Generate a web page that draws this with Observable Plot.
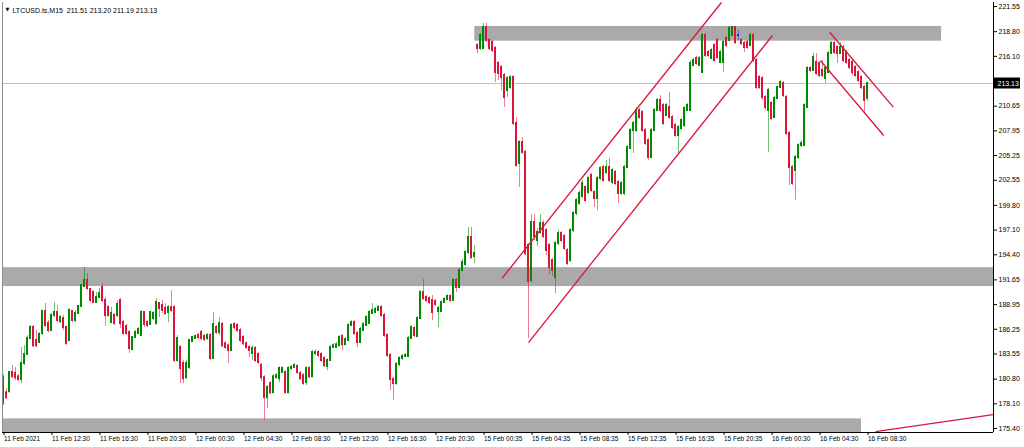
<!DOCTYPE html>
<html><head><meta charset="utf-8">
<script src="https://cdn.jsdelivr.net/npm/d3@7"></script>
<script src="https://cdn.jsdelivr.net/npm/@observablehq/plot@0.6"></script>
<style>
html,body{margin:0;padding:0;background:#fff;}
#chart svg{display:block;}
</style></head><body><div id="chart"></div>
<script>
const symbol = "LTCUSD.ts,M15";
const xLabels = ["11 Feb 2021","11 Feb 12:30","11 Feb 16:30","11 Feb 20:30","12 Feb 00:30","12 Feb 04:30","12 Feb 08:30","12 Feb 12:30","12 Feb 16:30","12 Feb 20:30","15 Feb 00:35","15 Feb 04:35","15 Feb 08:35","15 Feb 12:35","15 Feb 16:35","15 Feb 20:35","16 Feb 00:30","16 Feb 04:30","16 Feb 08:30"];
const barsPerLabel = 16;
const yTicks = [221.55,218.80,216.10,210.65,207.95,205.25,202.55,199.80,197.10,194.40,191.65,188.95,186.25,183.55,180.80,178.10,175.40];

const open = [180.96,179.32,179.43,181.51,181.40,181.07,180.75,182.50,183.48,185.23,186.44,185.01,184.79,185.78,188.19,186.87,186.11,187.75,188.08,187.09,187.42,186.44,185.01,188.19,187.20,187.97,188.74,190.92,191.58,190.59,190.26,189.17,189.72,190.81,189.39,188.63,186.98,187.75,187.75,189.39,186.98,186.55,185.89,184.03,185.34,185.78,185.56,188.08,186.98,186.76,187.42,186.87,189.06,188.84,188.52,188.08,188.63,188.63,182.83,184.25,182.50,180.96,182.06,184.90,185.23,185.56,185.89,185.45,185.23,185.56,183.04,186.44,185.89,186.76,184.68,184.46,183.92,186.76,186.66,186.11,185.34,184.68,184.25,183.59,184.14,183.48,182.28,180.96,178.77,180.31,179.32,180.96,180.85,181.51,181.51,179.32,181.95,182.06,182.17,181.40,181.18,180.42,181.95,181.07,183.59,183.70,183.48,183.04,182.17,182.83,184.25,184.25,184.46,185.45,184.57,185.01,186.66,186.98,185.78,184.79,186.11,186.66,186.87,187.97,188.08,188.30,188.63,187.75,185.56,183.37,180.75,180.31,182.39,183.04,183.26,183.26,185.23,186.33,185.45,187.42,190.26,189.72,189.61,189.39,189.28,188.19,188.19,189.17,189.50,189.83,189.39,191.58,190.81,192.67,193.33,194.64,196.28,194.20,217.28,216.95,216.95,219.25,217.83,217.61,216.95,215.32,214.88,214.00,212.36,212.70,213.78,208.75,204.38,206.67,205.58,195.40,191.58,197.92,195.95,196.83,197.81,197.05,195.40,193.77,191.91,195.62,196.72,196.39,194.86,193.77,197.05,198.91,200.00,200.77,201.75,201.20,203.06,201.20,200.55,202.74,203.94,203.39,203.94,202.30,203.39,202.30,201.09,201.09,203.94,206.02,207.99,207.99,210.18,209.96,207.99,206.89,205.04,207.99,210.18,211.27,210.72,209.63,210.50,209.41,208.53,207.44,208.21,208.53,210.18,210.18,215.10,215.87,215.10,214.33,218.38,216.52,215.87,217.28,217.83,215.43,215.43,218.05,217.83,218.38,219.25,218.38,217.83,217.50,217.61,217.28,218.38,215.65,213.78,213.68,211.60,210.18,210.94,209.41,211.49,212.70,213.13,211.60,207.66,203.94,203.61,205.04,206.35,206.35,210.50,214.77,214.55,215.43,215.32,214.55,213.68,214.33,216.41,217.50,217.06,216.41,217.06,216.52,215.65,215.43,214.88,214.33,213.78,212.70,211.51];
const high = [181.29,179.76,181.62,182.28,182.06,181.29,184.25,184.46,185.56,186.66,186.66,186.11,185.89,188.30,189.06,187.20,187.97,189.17,188.84,187.75,187.75,186.55,188.52,188.30,188.30,188.84,191.14,193.00,192.34,190.70,190.48,190.26,190.70,191.25,189.72,188.84,188.63,187.97,189.39,189.61,187.20,186.76,186.11,185.45,186.11,186.44,188.30,188.19,187.20,188.19,188.19,189.61,189.17,189.39,189.06,188.84,190.48,188.84,185.56,184.46,182.83,182.83,185.12,185.45,185.67,185.78,186.11,185.67,185.78,185.78,188.08,186.66,187.53,186.98,184.90,184.68,186.87,186.98,186.87,186.33,185.56,184.90,184.46,184.46,184.36,183.70,182.50,181.18,180.09,180.53,181.29,181.40,182.17,182.17,181.73,182.17,182.28,182.50,182.39,181.62,181.40,182.17,182.17,183.92,184.03,183.92,183.70,183.26,183.04,184.46,184.68,184.79,185.56,185.67,185.34,186.87,187.20,187.20,186.00,186.44,186.98,187.75,188.30,189.06,188.63,188.84,188.84,187.97,185.78,183.59,180.96,182.61,183.26,183.48,183.59,185.45,186.66,186.55,187.64,190.48,191.69,189.94,189.83,189.94,189.50,188.74,189.39,189.72,190.04,190.04,191.80,191.80,192.89,193.88,194.86,197.38,197.38,195.40,217.50,218.60,219.69,219.69,218.05,217.83,217.17,215.54,215.10,214.22,213.89,214.00,214.00,209.41,206.89,207.22,205.80,195.62,198.80,198.80,197.27,198.80,198.14,197.27,195.62,193.99,195.84,197.05,196.94,196.61,195.08,197.27,199.13,200.55,201.42,202.52,201.97,202.96,203.28,201.42,202.96,204.05,204.16,204.71,204.93,203.83,203.61,202.52,202.41,204.16,206.35,208.21,208.97,210.50,210.40,210.18,208.21,207.11,208.21,210.40,211.49,211.82,210.94,210.94,212.14,209.63,208.75,208.53,209.30,210.61,210.94,215.65,215.87,216.09,216.09,218.60,218.60,216.74,216.95,217.50,218.05,216.74,217.83,218.27,219.37,219.37,219.37,218.93,218.05,217.72,217.83,218.60,218.60,215.87,214.00,213.89,211.82,212.58,211.16,211.71,212.91,213.46,213.35,211.82,207.88,204.16,205.25,206.56,206.89,210.94,214.99,214.99,216.41,216.41,215.54,215.65,214.99,216.63,217.72,217.72,217.28,217.61,217.28,216.74,215.87,215.65,215.10,214.55,214.00,212.91,213.20];
const low = [177.90,178.56,179.32,180.85,180.64,180.53,180.31,182.28,183.37,185.12,184.25,184.25,184.68,185.56,186.44,185.89,186.00,187.53,186.98,186.87,186.11,184.57,184.90,186.98,186.98,187.86,188.63,190.81,190.48,189.17,189.06,189.06,189.61,189.17,186.55,187.53,186.87,186.66,187.53,186.33,185.56,185.56,183.59,183.92,185.23,185.67,185.45,186.44,186.44,186.66,187.20,186.66,187.53,187.97,187.75,186.98,188.08,182.61,182.61,180.31,180.31,180.75,181.84,184.79,185.12,185.12,185.01,184.90,185.01,182.83,182.94,185.67,185.56,184.25,184.03,182.50,183.81,186.22,185.89,184.79,184.46,184.03,183.15,182.83,182.61,182.39,180.53,176.26,177.58,179.10,179.21,180.85,180.42,181.40,179.21,179.21,181.73,181.95,181.29,180.64,180.09,180.09,180.85,180.96,183.37,183.15,182.61,182.06,181.73,182.72,184.14,184.14,184.36,183.92,184.46,184.90,186.55,185.56,184.25,184.68,186.00,186.55,186.76,187.86,187.97,188.19,187.53,185.34,183.15,179.54,178.45,180.09,182.17,182.83,183.15,183.15,185.12,185.34,185.34,187.31,189.39,189.17,188.95,187.20,188.74,186.44,188.08,189.06,189.39,189.17,189.28,190.26,190.70,192.56,193.11,194.42,193.88,193.44,216.41,216.74,216.85,217.61,216.74,216.52,213.24,213.46,212.36,210.50,211.60,212.48,208.53,203.94,201.75,205.36,194.31,185.23,191.36,195.95,195.29,196.61,196.17,194.31,192.23,192.01,190.15,195.40,195.73,194.86,193.22,193.55,196.83,198.69,199.78,200.55,200.11,200.99,201.20,199.57,199.24,202.52,202.30,203.17,202.30,202.08,201.97,200.00,200.88,200.88,203.83,205.91,205.47,207.77,209.19,207.77,206.35,204.71,204.93,207.88,210.07,209.96,208.53,209.52,209.19,208.10,207.22,205.47,207.99,208.32,210.07,210.07,214.99,215.10,214.99,214.22,215.97,215.97,215.76,215.43,215.76,215.32,214.33,217.06,217.72,218.27,217.39,217.83,217.28,216.52,216.85,217.17,215.43,212.48,212.48,211.27,210.18,205.58,209.08,209.30,211.38,212.58,211.60,207.44,201.97,201.97,200.33,204.82,206.13,206.24,210.40,214.33,214.44,214.00,213.78,213.78,213.13,214.22,216.30,216.30,215.32,216.30,215.43,215.21,214.66,214.00,213.78,213.24,212.48,209.85,211.19];
const close = [178.12,178.77,181.51,181.07,180.96,180.75,182.50,183.48,185.23,186.44,184.46,184.46,185.67,188.19,186.66,186.11,187.75,188.08,187.20,187.53,186.44,184.68,188.30,187.20,187.97,188.74,191.03,191.58,190.70,189.39,189.17,189.72,190.15,189.39,187.75,187.75,187.97,186.87,188.95,186.87,185.78,185.78,184.14,185.34,185.89,186.22,188.08,186.76,186.66,188.08,187.97,189.17,188.52,188.30,187.97,188.63,188.30,182.83,185.23,181.95,180.85,182.50,185.01,185.34,185.45,185.34,185.23,185.12,185.56,183.04,186.76,185.89,186.87,184.46,184.25,183.92,186.66,186.44,186.11,185.01,184.68,184.25,183.92,184.14,182.83,182.61,180.96,178.77,179.87,179.32,181.07,181.18,181.95,181.95,179.32,181.95,182.06,182.28,181.51,180.85,180.31,181.95,181.07,183.70,183.70,183.37,182.83,182.28,182.83,184.25,184.46,184.57,185.34,184.57,185.12,186.66,186.98,185.78,184.79,186.22,186.76,187.53,188.08,188.30,188.41,188.63,187.75,185.56,183.37,180.75,180.31,182.39,183.04,183.26,183.37,185.23,186.44,185.56,187.42,190.26,189.61,189.39,189.17,188.08,188.95,188.52,189.17,189.50,189.83,189.39,191.58,190.81,192.67,193.55,194.64,196.28,194.09,194.53,216.95,218.38,219.25,217.83,216.95,216.74,214.33,214.22,213.78,211.60,213.68,213.78,208.75,204.16,206.67,205.58,194.53,191.47,197.92,196.39,196.83,197.81,196.39,194.86,193.00,192.67,195.62,196.72,195.95,195.08,193.44,197.05,198.91,200.33,201.09,202.19,200.33,202.74,201.42,200.55,202.74,203.83,202.52,203.94,202.52,203.61,202.19,201.09,202.19,203.94,206.13,207.99,208.75,210.18,209.41,207.99,206.56,205.04,207.99,210.18,211.27,210.18,208.75,210.72,209.41,208.32,207.44,208.32,209.08,210.40,210.72,215.32,215.65,215.32,215.87,218.38,216.19,216.19,216.74,215.65,215.97,216.52,217.61,217.28,219.15,219.25,217.61,218.38,217.50,217.06,217.06,218.38,215.65,212.70,212.70,211.60,210.50,212.36,209.30,211.49,212.70,213.24,211.82,207.66,203.94,202.19,205.04,206.35,206.56,210.72,214.77,214.55,215.97,214.22,214.00,214.00,214.77,216.41,217.50,216.52,216.41,217.06,215.65,215.43,214.88,214.33,214.00,213.46,212.70,211.27,213.13];

// support / resistance zones (bar index span, price span)
const zoneX1 = [157.1, -0.33, -0.33];
const zoneX2 = [312.7, 330, 286];
const zoneLow = [217.76, 190.92, 174.96];
const zoneHigh = [219.37, 192.99, 176.45];

// trend lines (bar index, price)
const lineX1 = [166.2, 175.0, 275.4, 272.3, 290.7];
const lineY1 = [191.83, 184.80, 218.74, 215.65, 175.06];
const lineX2 = [239.3, 256.3, 296.6, 293.4, 330];
const lineY2 = [221.99, 218.38, 210.54, 207.44, 176.92];

const bars = close.map((c, i) => ({i, o: open[i], h: high[i], l: low[i], c}));
const zones = zoneX1.map((x1, k) => ({x1, x2: zoneX2[k], y1: zoneLow[k], y2: zoneHigh[k]}));
const lines = lineX1.map((x1, k) => ({x1, y1: lineY1[k], x2: lineX2[k], y2: lineY2[k]}));
const last = bars[bars.length - 1];
const xTickIdx = xLabels.map((_, k) => k * barsPerLabel);
const GREEN = "#008a00", RED = "#dc143c", DOJI = "#2a2ad0";
const col = d => d.c > d.o ? GREEN : d.c < d.o ? RED : DOJI;
const fmt = v => v.toFixed(2);
const header = `${symbol}  ${fmt(last.o)} ${fmt(last.h)} ${fmt(last.l)} ${fmt(last.c)}`;
const FONT = "'Liberation Sans', Arial, sans-serif";

const xDomain = [-1/3, 330];
const yDomain = [174.96, 221.99];
// price tag box: spans 9 bars to the right of the axis, ±0.6 around the last close
const tagBars = 9, tagHalf = 0.6;

const plot = Plot.plot({
  width: 1024, height: 447,
  marginTop: 2, marginBottom: 15, marginLeft: 2, marginRight: 31,
  style: {background: "#fff", fontFamily: FONT, fontSize: "6.5px", color: "#000", overflow: "visible"},
  x: {type: "linear", domain: xDomain, axis: null},
  y: {domain: yDomain, axis: null},
  color: {type: "identity"},
  marks: [
    Plot.rect(zones, {x1: "x1", x2: "x2", y1: "y1", y2: "y2", fill: "#aaaaaa"}),
    Plot.ruleY([last.c], {stroke: "#b9c1ca", strokeWidth: 1}),
    Plot.ruleX(bars, {x: "i", y1: "l", y2: "h", stroke: col, strokeOpacity: 0.55}),
    Plot.ruleX(bars, {x: "i", y1: "o", y2: "c", stroke: col, strokeWidth: 2, strokeLinecap: "square", dx: -0.5}),
    Plot.link(lines, {x1: "x1", y1: "y1", x2: "x2", y2: "y2", stroke: RED, strokeWidth: 1.3, clip: true}),
    Plot.ruleX([xDomain[0]], {stroke: "#8c8c8c"}),
    Plot.ruleX([xDomain[1]], {stroke: "#000"}),
    Plot.ruleY([yDomain[0]], {stroke: "#000"}),
    Plot.axisY({anchor: "right", ticks: yTicks, tickSize: 3, tickPadding: 2, tickFormat: fmt, fontSize: 7}),
    Plot.axisX({anchor: "bottom", ticks: xTickIdx, tickSize: 3, tickPadding: 1,
      tickFormat: d => xLabels[Math.round(d / barsPerLabel)], textAnchor: "start", dx: 0.5, fontSize: 6.5}),
    Plot.rect([last], {x1: () => xDomain[1], x2: () => xDomain[1] + tagBars,
      y1: d => d.c - tagHalf, y2: d => d.c + tagHalf, fill: "#000", insetLeft: 1}),
    Plot.text([last], {x: () => xDomain[1], y: "c", text: d => fmt(d.c), textAnchor: "start",
      dx: 4, fill: "#fff", fontSize: 7}),
    Plot.text(["\u25BC"], {frameAnchor: "top-left", dx: 3, dy: 5, fontSize: 5, fill: "#000", fontFamily: "DejaVu Sans"}),
    Plot.text([header], {frameAnchor: "top-left", textAnchor: "start", dx: 10, dy: 6, fontSize: 7, fill: "#000"})
  ]
});

document.getElementById("chart").appendChild(plot);
</script></body></html>
